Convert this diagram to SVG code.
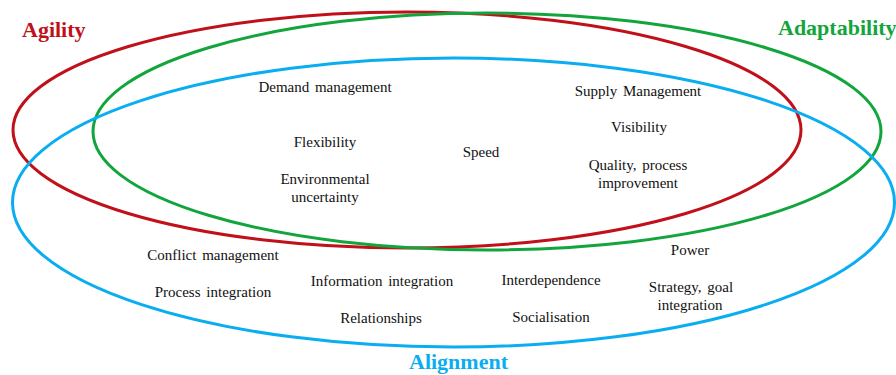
<svg xmlns="http://www.w3.org/2000/svg" width="896" height="375" viewBox="0 0 896 375">
  <style>
    .set { fill: none; stroke-width: 3; }
    .title { font-family: "Liberation Serif", "Times New Roman", serif; font-size: 22px; font-weight: bold; text-anchor: start; }
    .item { font-family: "Liberation Serif", "Times New Roman", serif; font-size: 15px; fill: #111; text-anchor: middle; word-spacing: 2px; }
  </style>
  <rect width="896" height="375" fill="#ffffff"/>

  <!-- the three overlapping sets -->
  <g id="sets">
    <ellipse id="agility-set" class="set" cx="407" cy="130" rx="394" ry="118" stroke="#C0101A"/>
    <ellipse id="adaptability-set" class="set" cx="487" cy="131.5" rx="394" ry="118.5" stroke="#12A53C"/>
    <ellipse id="alignment-set" class="set" cx="453.5" cy="202.5" rx="441" ry="144.5" stroke="#0AAEF0"/>
  </g>

  <!-- set titles -->
  <g id="titles">
    <text id="agility" class="title" x="22" y="37" fill="#C0101A">Agility</text>
    <text id="adaptability" class="title" x="778" y="35" fill="#12A53C">Adaptability</text>
    <text id="alignment" class="title" x="409" y="369" fill="#0AAEF0">Alignment</text>
  </g>

  <!-- factors inside the sets -->
  <g id="factors">
    <text class="item" x="325" y="92">Demand management</text>
    <text class="item" x="638" y="96">Supply Management</text>
    <text class="item" x="639" y="132">Visibility</text>
    <text class="item" x="325" y="147">Flexibility</text>
    <text class="item" x="481" y="157">Speed</text>
    <text class="item" x="638" y="170">Quality, process</text>
    <text class="item" x="638" y="188">improvement</text>
    <text class="item" x="325" y="184">Environmental</text>
    <text class="item" x="325" y="202">uncertainty</text>
    <text class="item" x="213" y="260">Conflict management</text>
    <text class="item" x="213" y="297">Process integration</text>
    <text class="item" x="382" y="286">Information integration</text>
    <text class="item" x="381" y="323">Relationships</text>
    <text class="item" x="690" y="255">Power</text>
    <text class="item" x="551" y="285">Interdependence</text>
    <text class="item" x="551" y="322">Socialisation</text>
    <text class="item" x="691" y="292">Strategy, goal</text>
    <text class="item" x="690" y="310">integration</text>
  </g>
</svg>
